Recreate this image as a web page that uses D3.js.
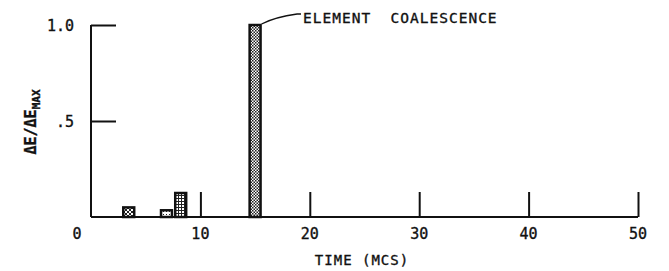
<!DOCTYPE html>
<html>
<head>
<meta charset="utf-8">
<script src="https://cdn.jsdelivr.net/npm/d3@7"></script>
<style>
  body { margin: 0; background: #fff; }
  text { font-family: "DejaVu Sans Mono", monospace; fill: #111; stroke: #111; stroke-width: 0.35px; }
</style>
</head>
<body>
<script>
'use strict';

// data
const barTimes = [3.45, 6.9, 8.2, 15.0];   // bar centres (MCS)
const barValues = [0.05, 0.035, 0.125, 1.0]; // dE/dEmax
const barPatterns = ["pCross", "pSmall", "pGrid", "pDots"];
const xTicks = [10, 20, 30, 40, 50];
const xTickLabels = ["10", "20", "30", "40", "50"];
const yTicks = [0.5, 1.0];
const yTickLabels = [".5", "1.0"];
const barWidth = 1.0;

const W = 669, H = 271;
const svg = d3.select("body").append("svg").attr("width", W).attr("height", H);

const x = d3.scaleLinear().domain([0, 50]).range([91, 638]);
const y = d3.scaleLinear().domain([0, 1]).range([217, 25]);

// fill patterns
const defs = svg.append("defs");
function pattern(id, size, draw) {
  const p = defs.append("pattern").attr("id", id)
    .attr("patternUnits", "userSpaceOnUse").attr("width", size).attr("height", size);
  p.append("rect").attr("width", size).attr("height", size).attr("fill", "#fff");
  draw(p);
}
pattern("pDots", 3, p => {
  p.append("rect").attr("x", 0).attr("y", 0).attr("width", 1.5).attr("height", 1.5).attr("fill", "#222");
  p.append("rect").attr("x", 1.5).attr("y", 1.5).attr("width", 1.5).attr("height", 1.5).attr("fill", "#222");
});
pattern("pCross", 4, p => {
  p.append("path").attr("d", "M0,0L4,4M4,0L0,4").attr("stroke", "#222").attr("stroke-width", 1);
});
pattern("pGrid", 3, p => {
  p.append("rect").attr("x", 0).attr("y", 0).attr("width", 3).attr("height", 1).attr("fill", "#222");
  p.append("rect").attr("x", 1).attr("y", 0).attr("width", 1).attr("height", 3).attr("fill", "#222");
});
pattern("pSmall", 3, p => {
  p.append("rect").attr("x", 1).attr("y", 1).attr("width", 1).attr("height", 1).attr("fill", "#222");
});

// axes
const axisX = d3.axisTop(x).tickValues(xTicks).tickSize(25).tickFormat("");
svg.append("g").attr("class", "x-axis")
  .attr("transform", "translate(0," + y(0) + ")")
  .call(axisX)
  .call(g => g.selectAll(".tick line").attr("stroke", "#111").attr("stroke-width", 2))
  .call(g => g.select(".domain").attr("stroke", "#111").attr("stroke-width", 2)
    .attr("d", "M" + x(0) + ",0H" + x(50)));

const axisY = d3.axisRight(y).tickValues(yTicks).tickSize(25).tickFormat("");
svg.append("g").attr("class", "y-axis")
  .attr("transform", "translate(" + x(0) + ",0)")
  .call(axisY)
  .call(g => g.selectAll(".tick line").attr("stroke", "#111").attr("stroke-width", 2))
  .call(g => g.select(".domain").attr("stroke", "#111").attr("stroke-width", 2)
    .attr("d", "M0," + y(0) + "V" + y(1)));

// tick labels
svg.selectAll(".xlab").data(xTicks).enter().append("text")
  .attr("class", "xlab")
  .attr("x", d => x(d)).attr("y", 239)
  .attr("text-anchor", "middle").style("font-size", "15px")
  .text((d, i) => xTickLabels[i]);
svg.append("text").attr("x", x(0) - 14).attr("y", 239)
  .attr("text-anchor", "middle").style("font-size", "15px").text("0");

svg.selectAll(".ylab").data(yTicks).enter().append("text")
  .attr("class", "ylab")
  .attr("x", x(0) - 17).attr("y", d => y(d) + 6)
  .attr("text-anchor", "end").style("font-size", "15px")
  .text((d, i) => yTickLabels[i]);

// bars
svg.selectAll(".bar").data(barTimes).enter().append("rect")
  .attr("class", "bar")
  .attr("x", d => x(d - barWidth / 2))
  .attr("width", x(barWidth) - x(0))
  .attr("y", (d, i) => y(barValues[i]))
  .attr("height", (d, i) => y(0) - y(barValues[i]))
  .attr("fill", (d, i) => "url(#" + barPatterns[i] + ")")
  .attr("stroke", "#111").attr("stroke-width", 2.5);

// annotation
const peak = barTimes[3];
svg.append("path")
  .attr("d", "M" + (x(peak + barWidth / 2) + 1) + "," + (y(1) - 1) +
    "Q" + (x(peak) + 20) + "," + (y(1) - 8) + " " + (x(peak) + 42) + "," + (y(1) - 11) + "H" + 301)
  .attr("fill", "none").attr("stroke", "#111").attr("stroke-width", 1.3);
svg.append("text").attr("x", 303).attr("y", 23)
  .style("font-size", "14.5px").style("letter-spacing", "1px")
  .attr("xml:space", "preserve")
  .text("ELEMENT  COALESCENCE");

// axis titles
svg.append("text").attr("x", 362).attr("y", 265)
  .attr("text-anchor", "middle").style("font-size", "14px").style("letter-spacing", "1px")
  .attr("xml:space", "preserve")
  .text("TIME (MCS)");

const yt = svg.append("text")
  .attr("transform", "translate(36,122)rotate(-90)")
  .attr("text-anchor", "middle").style("font-size", "15px").style("font-weight", "bold");
yt.append("tspan").text("\u0394E/\u0394E");
yt.append("tspan").attr("dy", 4).style("font-size", "11px").text("MAX");
</script>
</body>
</html>
